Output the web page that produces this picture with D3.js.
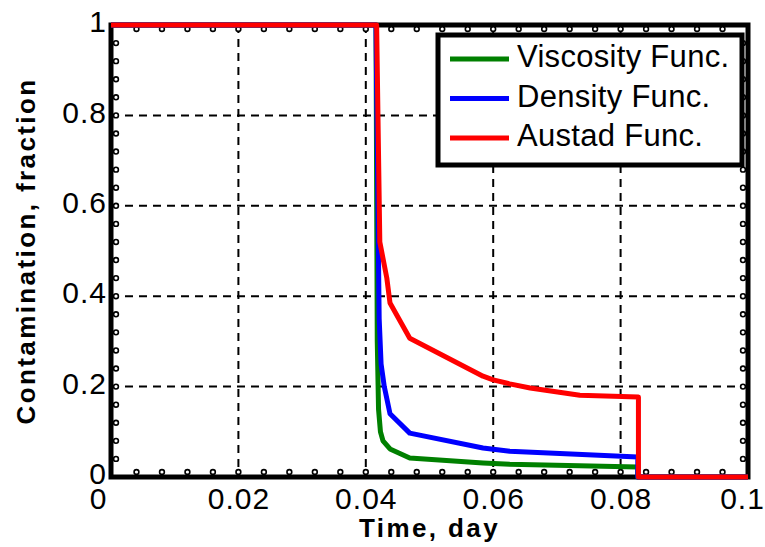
<!DOCTYPE html>
<html>
<head>
<meta charset="utf-8">
<script src="https://cdn.jsdelivr.net/npm/d3@7"></script>
<style>
  body { margin: 0; background: #fff; }
  text { font-family: "Liberation Sans", Arial, sans-serif; }
</style>
</head>
<body>
<script>
// data
const seriesNames = ['Viscosity Func.', 'Density Func.', 'Austad Func.'];
const seriesColors = ['#008000', '#0000ff', '#ff0000'];

const viscosityT = [0, 0.0416, 0.0418, 0.0420, 0.0423, 0.0427, 0.0438, 0.0469, 0.0584, 0.0626, 0.0827, 0.0827, 0.1];
const viscosityV = [1, 1, 0.3, 0.15, 0.10, 0.08, 0.062, 0.042, 0.031, 0.028, 0.022, 0, 0];

const densityT = [0, 0.0416, 0.0419, 0.0421, 0.0424, 0.0429, 0.0438, 0.0469, 0.0584, 0.0626, 0.0827, 0.0827, 0.1];
const densityV = [1, 1, 0.6, 0.35, 0.25, 0.20, 0.14, 0.097, 0.064, 0.057, 0.044, 0, 0];

const austadT = [0, 0.0417, 0.0422, 0.0433, 0.0438, 0.0469, 0.0584, 0.0600, 0.0626, 0.0658, 0.0736, 0.0828, 0.0828, 0.1];
const austadV = [1, 1, 0.52, 0.44, 0.385, 0.307, 0.223, 0.215, 0.206, 0.197, 0.181, 0.177, 0, 0];

const xTicks = [0, 0.02, 0.04, 0.06, 0.08, 0.1];
const yTicks = [0, 0.2, 0.4, 0.6, 0.8, 1];
const xMinor = d3.range(0, 26).map(i => i * 0.004);
const yMinor = d3.range(0, 26).map(i => i * 0.04);

const svgWidth = 765, svgHeight = 547;
const plotLeft = 111, plotRight = 748, plotTop = 25, plotBottom = 477;

let svg = d3.select('body').append('svg')
  .attr('width', svgWidth)
  .attr('height', svgHeight);

svg.append('rect').attr('width', svgWidth).attr('height', svgHeight).attr('fill', '#fff');

let x = d3.scaleLinear().domain([0, 0.1]).range([plotLeft, plotRight]);
let y = d3.scaleLinear().domain([0, 1]).range([plotBottom, plotTop]);

// dashed grid
let grid = svg.append('g');
grid.selectAll('line.vx')
  .data(xTicks.slice(1, -1))
  .enter().append('line')
  .attr('x1', d => x(d)).attr('x2', d => x(d))
  .attr('y1', plotTop).attr('y2', plotBottom);
grid.selectAll('line.hy')
  .data(yTicks.slice(1, -1))
  .enter().append('line')
  .attr('x1', plotLeft).attr('x2', plotRight)
  .attr('y1', d => y(d)).attr('y2', d => y(d));
grid.selectAll('line')
  .attr('stroke', '#000')
  .attr('stroke-width', 2)
  .attr('stroke-dasharray', '8,6');

// frame
svg.append('rect')
  .attr('x', plotLeft).attr('y', plotTop)
  .attr('width', plotRight - plotLeft).attr('height', plotBottom - plotTop)
  .attr('fill', 'none')
  .attr('stroke', '#000')
  .attr('stroke-width', 5);

// tick marks drawn as little rings, on all four sides
let ticks = svg.append('g')
  .attr('fill', '#fff')
  .attr('stroke', '#000')
  .attr('stroke-width', 1.6);
xMinor.slice(1, -1).forEach(d => {
  ticks.append('circle').attr('cx', x(d)).attr('cy', plotBottom - 5).attr('r', 2.4);
  ticks.append('circle').attr('cx', x(d)).attr('cy', plotTop + 4).attr('r', 2.4);
});
yMinor.slice(1, -1).forEach(d => {
  ticks.append('circle').attr('cx', plotLeft + 5).attr('cy', y(d)).attr('r', 2.4);
  ticks.append('circle').attr('cx', plotRight - 5).attr('cy', y(d)).attr('r', 2.4);
});

// tick labels
let xAxis = svg.append('g')
  .attr('transform', `translate(0,${plotBottom + 8})`)
  .call(d3.axisBottom(x).tickValues(xTicks).tickSize(0).tickFormat(d3.format('~g')));
xAxis.select('.domain').remove();
xAxis.selectAll('text')
  .attr('font-size', 30)
  .attr('fill', '#000')
  .attr('dy', '0.71em')
  .style('letter-spacing', '1px');
xAxis.selectAll('.tick').filter(d => d === 0).select('text').attr('dx', -13);
xAxis.selectAll('.tick').filter(d => d === 0.1).select('text').attr('dx', -6);

let yAxis = svg.append('g')
  .attr('transform', `translate(${plotLeft - 4},0)`)
  .call(d3.axisLeft(y).tickValues(yTicks).tickSize(0).tickFormat(d3.format('~g')));
yAxis.select('.domain').remove();
yAxis.selectAll('text')
  .attr('font-size', 30)
  .attr('fill', '#000')
  .attr('x', 0)
  .attr('dy', '0.22em')
  .style('letter-spacing', '1px');

// curves
let line = d3.line().x(d => x(d[0])).y(d => y(d[1]));
let series = [
  d3.zip(viscosityT, viscosityV),
  d3.zip(densityT, densityV),
  d3.zip(austadT, austadV)
];
svg.append('g').selectAll('path')
  .data(series)
  .enter().append('path')
  .attr('d', line)
  .attr('fill', 'none')
  .attr('stroke', (d, i) => seriesColors[i])
  .attr('stroke-width', 5)
  .attr('stroke-linejoin', 'round');

// axis titles
svg.append('text')
  .attr('x', (plotLeft + plotRight) / 2)
  .attr('y', 537)
  .attr('text-anchor', 'middle')
  .attr('font-size', 26)
  .attr('font-weight', 'bold')
  .style('letter-spacing', '2.4px')
  .text('Time, day');

svg.append('text')
  .attr('transform', `translate(35,${(plotTop + plotBottom) / 2}) rotate(-90)`)
  .attr('text-anchor', 'middle')
  .attr('font-size', 26)
  .attr('font-weight', 'bold')
  .style('letter-spacing', '2.4px')
  .text('Contamination, fraction');

// legend
let legend = svg.append('g');
legend.append('rect')
  .attr('x', 438).attr('y', 35)
  .attr('width', 304).attr('height', 130)
  .attr('fill', '#fff')
  .attr('stroke', '#000')
  .attr('stroke-width', 5);
seriesNames.forEach((name, i) => {
  let ly = 59 + i * 39.5;
  legend.append('line')
    .attr('x1', 450).attr('x2', 509)
    .attr('y1', ly).attr('y2', ly)
    .attr('stroke', seriesColors[i])
    .attr('stroke-width', 5);
  legend.append('text')
    .attr('x', 517).attr('y', ly + 8)
    .attr('font-size', 31)
    .style('letter-spacing', '0.3px')
    .text(name);
});
</script>
</body>
</html>
